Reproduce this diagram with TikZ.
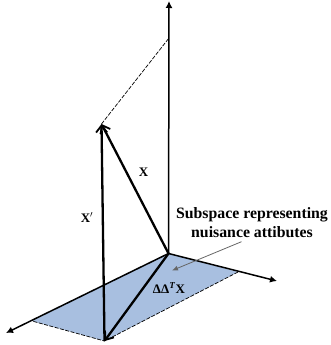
\documentclass[tikz,border=0pt]{standalone}
\usepackage{fontspec}
\setmainfont{Liberation Serif}
\usetikzlibrary{arrows.meta}
\tikzset{
  axis/.style={draw=black,line width=1.5pt,-{Latex[length=7pt,width=7pt]}},
  vec/.style={draw=black,line width=2.3pt,-{Straight Barb[length=7pt,width=11pt,line width=1.8pt]}},
  guide/.style={draw=black,line width=0.7pt,dash pattern=on 4pt off 1.5pt},
  lab/.style={inner sep=0pt,align=center},
  small/.style={font=\bfseries\fontsize{13}{13}\selectfont},
  big/.style={font=\bfseries\fontsize{15.8}{19}\selectfont}
}
\begin{document}
\begin{tikzpicture}[x=1pt,y=-1pt]
\useasboundingbox (0,0) rectangle (331,345);
\coordinate (O) at (168.5,253.5);
\coordinate (A) at (238,272);
\coordinate (B) at (104.5,341);
\coordinate (C) at (32,321);
\coordinate (T) at (101.5,124);
\coordinate (U) at (169,38);
\coordinate (Zt) at (169,1);
\coordinate (Lt) at (6,333);
\coordinate (Rt) at (277,281);
\fill[fill={rgb,255:red,168;green,191;blue,224}] (O) -- (A) -- (B) -- (C) -- cycle;
\draw[guide] (A) -- (B) -- (C);
\draw[guide] (T) -- (U);
\draw[axis] (O) -- (Zt);
\draw[axis] (O) -- (Lt);
\draw[axis] (O) -- (Rt);
\draw[vec] (O) -- (T);
\draw[vec] (B) -- (T);
\draw[vec] (O) -- (B);
\node[lab,small] (x) at (143.5,172.5) {X};
\node[lab,small] (xp) at (87,217.5) {X$'$};
\node[lab,small] (d) at (169,288) {ΔΔ\textsuperscript{\textit{T}}X};
\node[lab,big] (s) at (252,222.5) {Subspace representing\\nuisance attibutes};
\draw[draw=black!60,line width=0.8pt,-{Latex[length=6pt,width=5pt]}] (241.5,241.7) -- (172,270.5);
\end{tikzpicture}
\end{document}
